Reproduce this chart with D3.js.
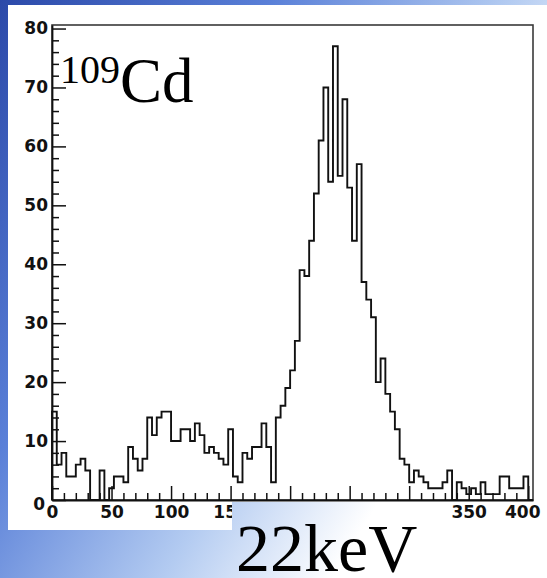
<!DOCTYPE html>
<html>
<head>
<meta charset="utf-8">
<script src="https://cdn.jsdelivr.net/npm/d3@7"></script>
<style>
  html, body { margin: 0; padding: 0; background: #fff; }
  svg { display: block; }
</style>
</head>
<body>
<div id="chart"></div>
<script>
// Histogram of 109Cd spectrum, 100 bins of 4 channels from 0 to 400
const binWidth = 4;
const counts = [
  15, 6, 8, 4, 4, 6, 7, 5, 0, 0,
  5, 0, 2, 4, 4, 3, 9, 7, 5, 7,
  14, 11, 14, 15, 15, 10, 10, 12, 12, 10,
  13, 11, 8, 9, 8, 7, 6, 12, 4, 3,
  8, 7, 9, 9, 13, 9, 3, 14, 16, 19,
  22, 27, 39, 38, 44, 52, 61, 70, 54, 77,
  55, 68, 53, 44, 57, 37, 34, 31, 20, 24,
  18, 15, 12, 7, 6, 3, 5, 4, 3, 2,
  2, 2, 3, 5, 0, 3, 2, 1, 2, 1,
  3, 1, 1, 1, 4, 4, 2, 2, 2, 4
];
const xMajorTicks = [0, 50, 100, 150, 200, 250, 300, 350, 400];
// 200-300 labels sit under the "22keV" text box on the slide
const xHiddenLabels = [200, 250, 300];
const yMajorTicks = [0, 10, 20, 30, 40, 50, 60, 70, 80];
const isotopeMass = '109';
const isotopeName = 'Cd';
const energyLabel = '22keV';

const width = 547;
const height = 578;

const svg = d3.select('#chart').append('svg')
  .attr('width', width)
  .attr('height', height)
  .attr('viewBox', `0 0 ${width} ${height}`);

// slide background
const defs = svg.append('defs');
const bg = defs.append('linearGradient')
  .attr('id', 'slide-bg')
  .attr('gradientUnits', 'userSpaceOnUse')
  .attr('x1', 0).attr('y1', 0)
  .attr('x2', 500).attr('y2', 300);
[[0, '#2b49a9'], [0.4, '#5a80d8'], [0.75, '#b3cbf1'], [1, '#ffffff']].forEach(([o, c]) => {
  bg.append('stop').attr('offset', o).attr('stop-color', c);
});

svg.append('rect')
  .attr('width', width)
  .attr('height', height)
  .attr('fill', 'url(#slide-bg)');

// white pad of the picture
svg.append('rect')
  .attr('x', 8).attr('y', 5)
  .attr('width', width - 8).attr('height', 525)
  .attr('fill', '#fff');

// scales
const x = d3.scaleLinear()
  .domain([0, 404])
  .range([52, 533]);

const y = d3.scaleLinear()
  .domain([0, 80.6])
  .range([500, 25]);

const plot = svg.append('g');

// frame
plot.append('rect')
  .attr('x', x(0)).attr('y', y(80.6))
  .attr('width', x(404) - x(0))
  .attr('height', y(0) - y(80.6))
  .attr('fill', 'none')
  .attr('stroke', '#3a3a3a')
  .attr('stroke-width', 1.6);

// histogram outline
const steps = [{ x: 0, y: 0 }];
counts.forEach((c, i) => steps.push({ x: i * binWidth, y: c }));
steps.push({ x: counts.length * binWidth, y: 0 });
steps.push({ x: 404, y: 0 });

const line = d3.line()
  .curve(d3.curveStepAfter)
  .x(d => x(d.x))
  .y(d => y(d.y));

plot.append('path')
  .datum(steps)
  .attr('fill', 'none')
  .attr('stroke', '#111')
  .attr('stroke-width', 1.9)
  .attr('stroke-linejoin', 'miter')
  .attr('d', line);

// axes
const tickFont = g => g
  .attr('font-family', '"DejaVu Sans", sans-serif')
  .attr('font-weight', 'bold')
  .attr('font-size', 17)
  .call(s => s.selectAll('text').attr('fill', '#111'))
  .call(s => s.selectAll('line').attr('stroke', '#111').attr('stroke-width', 1.5))
  .call(s => s.select('.domain').attr('stroke', '#111').attr('stroke-width', 1.8));

const yMinor = d3.range(0, 81, 2).filter(v => v % 10 !== 0);
const xMinor = d3.range(0, 401, 10).filter(v => v % 50 !== 0);

plot.append('g')
  .attr('transform', `translate(${x(0)},0)`)
  .call(d3.axisLeft(y).tickValues(yMinor).tickSize(-7).tickSizeOuter(0).tickFormat(''))
  .call(tickFont)
  .call(g => g.select('.domain').remove());

plot.append('g')
  .attr('transform', `translate(${x(0)},0)`)
  .call(d3.axisLeft(y).tickValues(yMajorTicks).tickSize(-14).tickSizeOuter(0).tickPadding(4))
  .call(tickFont)
  .call(g => g.selectAll('.tick text').filter(d => d === 0).attr('dy', '0.55em').attr('x', -7));

plot.append('g')
  .attr('transform', `translate(0,${y(0)})`)
  .call(d3.axisBottom(x).tickValues(xMinor).tickSize(-7).tickSizeOuter(0).tickFormat(''))
  .call(tickFont)
  .call(g => g.select('.domain').remove());

plot.append('g')
  .attr('transform', `translate(0,${y(0)})`)
  .call(d3.axisBottom(x).tickValues(xMajorTicks).tickSize(-14).tickSizeOuter(0).tickPadding(6)
    .tickFormat(d => xHiddenLabels.includes(d) ? '' : d))
  .call(tickFont)
  .call(g => g.selectAll('.tick text').filter(d => d === 400).attr('dx', -6))
  .call(g => g.selectAll('.tick text').filter(d => d === 0).attr('dx', 0));

// isotope label
const iso = svg.append('text')
  .attr('x', 60)
  .attr('y', 102)
  .attr('font-family', '"Liberation Serif", "Times New Roman", serif')
  .attr('fill', '#000');
iso.append('tspan')
  .attr('font-size', 40)
  .attr('dy', -19)
  .text(isotopeMass);
iso.append('tspan')
  .attr('font-size', 63)
  .attr('dy', 19)
  .text(isotopeName);

// text box laid over the lower axis labels
svg.append('rect')
  .attr('x', 232).attr('y', 502)
  .attr('width', 211).attr('height', height - 502)
  .attr('fill', 'url(#slide-bg)');

svg.append('text')
  .attr('x', 236)
  .attr('y', 571)
  .attr('font-family', '"Liberation Serif", "Times New Roman", serif')
  .attr('font-size', 68)
  .attr('fill', '#000')
  .text(energyLabel);
</script>
</body>
</html>
